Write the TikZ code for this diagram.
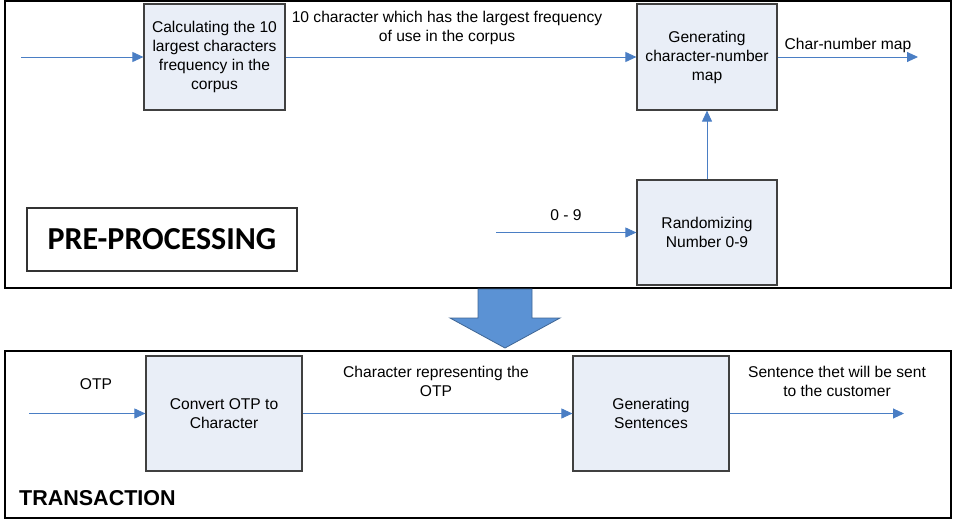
\documentclass[tikz,border=0pt]{standalone}
\usepackage{fontspec}
\setmainfont{Liberation Sans}
\newfontfamily\calfont{Carlito}
\usepackage{tikz}
\usetikzlibrary{arrows.meta,positioning,calc}

\definecolor{flowblue}{HTML}{4A7EC4}
\definecolor{boxfill}{HTML}{E9EEF7}
\definecolor{bigarrow}{HTML}{5B92D4}

\begin{document}
\begin{tikzpicture}[x=1pt,y=-1pt,
    frame/.style={draw=black, line width=2pt},
    proc/.style={draw=black!75, fill=boxfill, line width=1.2pt, align=center,
        font=\fontsize{15.6}{19}\selectfont, inner sep=0pt},
    flow/.style={draw=flowblue, line width=0.9pt, -{Triangle[length=11pt,width=10pt]}},
    lbl/.style={align=center, font=\fontsize{15.6}{19}\selectfont, inner sep=0pt}]

\useasboundingbox (0,0) rectangle (957,524);

% pre-processing part
\draw[frame] (5,1.5) rectangle (951,288);
\node[proc, minimum width=141pt, minimum height=106pt] (calc) at (214.5,57)
    {Calculating the 10\\largest characters\\frequency in the\\corpus};
\node[proc, minimum width=140pt, minimum height=106pt] (cmap) at (707,57)
    {Generating\\character-number\\map};
\node[proc, minimum width=140pt, minimum height=105pt] (rand) at (707,232.5)
    {Randomizing\\Number 0-9};
\node[draw=black!80, line width=1.2pt, minimum width=270pt, minimum height=63pt,
    font=\calfont\bfseries\fontsize{32}{36}\selectfont] (pre) at (162,239.5) {PRE-PROCESSING};

\coordinate (corpus) at (21,57);
\coordinate (mapout) at (918,57);
\coordinate (digits) at (496,232.5);

\draw[flow] (corpus) -- (calc);
\draw[flow] (calc) -- (cmap);
\draw[flow] (cmap) -- (mapout);
\draw[flow] (digits) -- (rand);
\draw[flow] (rand) -- (cmap);

\node[lbl] (toplbl) at (447,28) {10 character which has the largest frequency\\of use in the corpus};
\node[lbl] (maplbl) at (848,45) {Char-number map};
\node[lbl] (digitlbl) at (566,215) {0 - 9};

% big arrow between the parts
\draw[draw=bigarrow!70!black, fill=bigarrow, line width=0.8pt]
    (478,289) -- (532,289) -- (532,318) -- (560,318) -- (505,348)
    -- (450,318) -- (478,318) -- cycle;

% transaction part
\draw[frame] (5,351) rectangle (951,518);
\node[proc, minimum width=156pt, minimum height=115pt] (conv) at (224,413.5)
    {Convert OTP to\\Character};
\node[proc, minimum width=156pt, minimum height=115pt] (sent) at (651,413.5)
    {Generating\\Sentences};

\coordinate (otpin) at (29,413.5);
\coordinate (sentout) at (904,413.5);

\draw[flow] (otpin) -- (conv);
\draw[flow] (conv) -- (sent);
\draw[flow] (sent) -- (sentout);

\node[lbl] (otplbl) at (96,384) {OTP};
\node[lbl] (charlbl) at (436,381) {Character representing the\\OTP};
\node[lbl] (sentlbl) at (837,381) {Sentence thet will be sent\\to the customer};
\node[anchor=west, inner sep=0pt, font=\bfseries\fontsize{21.5}{24}\selectfont] (trans) at (19,498) {TRANSACTION};
\end{tikzpicture}
\end{document}
